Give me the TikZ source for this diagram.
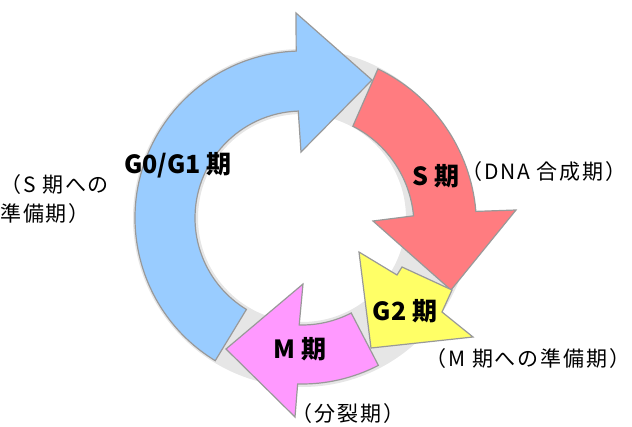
\documentclass[tikz,border=0pt]{standalone}
\usepackage{fontspec}
\setmainfont{Noto Sans CJK JP}
\definecolor{phaseline}{HTML}{999999}
\definecolor{ringgray}{HTML}{E6E6E6}
\definecolor{gblue}{HTML}{99CCFF}
\definecolor{sred}{HTML}{FF7C80}
\definecolor{gyellow}{HTML}{FFFF66}
\definecolor{mpink}{HTML}{FF99FF}
\tikzset{
  phase/.style={draw=phaseline, line width=1.2pt, line join=miter},
  phaselabel/.style={font=\bfseries\fontsize{25}{28}\selectfont, inner sep=0pt},
  note/.style={font=\fontsize{21}{29}\selectfont\addfontfeature{LetterSpace=9}, inner sep=0pt},
}
\begin{document}
\begin{tikzpicture}[x=1pt, y=1pt]
  \useasboundingbox (-302,-208) rectangle (330,218);
  % background ring behind the four phases
  \fill[ringgray, even odd rule] (0,0) circle[radius=169pt] (0,0) circle[radius=104pt];

  % G0/G1 phase
  \draw[phase, fill=gblue] (238.7:167pt) arc[start angle=238.7, end angle=92, radius=167pt]
    -- (-6,205) -- (70,138) -- (-1,66)
    -- (92:107pt) arc[start angle=92, end angle=238.7, radius=107pt] -- cycle;

  % S phase
  \begin{scope}[shift={(0,-8)}]
    \draw[phase, fill=sred] (64.2:174.5pt) arc[start angle=64.2, end angle=4.8, radius=174.5pt]
      -- (214,16) -- (149,-64) -- (71,5)
      -- (5.2:112pt) arc[start angle=5.2, end angle=63, radius=112pt] -- cycle;
  \end{scope}

  % G2 phase
  \draw[phase, fill=gyellow] (57,-34) -- (95,-57) -- (100,-49) -- (150,-72)
    -- (140,-94) -- (171,-119) -- (69,-130) -- cycle;

  % M phase
  \draw[phase, fill=mpink] (-62.6:166pt) arc[start angle=-62.6, end angle=-91.5, radius=166pt]
    -- (-7,-199) -- (-76,-131) -- (1,-66)
    -- (-91.5:107pt) arc[start angle=-91.5, end angle=-62.6, radius=107pt] -- cycle;

  % phase names
  \node[phaselabel] (g1) at (-124,53) {G0/G1 期};
  \node[phaselabel] (s) at (134,42) {S 期};
  \node[phaselabel] (g2) at (103,-93) {G2 期};
  \node[phaselabel] (m) at (-2,-131) {M 期};

  % notes
  \node[note, anchor=north west, align=left] (g1note) at (-302,44) {（S 期への\\準備期）};
  \node[note] (snote) at (242,46) {（DNA 合成期）};
  \node[note] (g2note) at (226,-141) {（M 期への準備期）};
  \node[note] (mnote) at (46,-196) {（分裂期）};
\end{tikzpicture}
\end{document}
